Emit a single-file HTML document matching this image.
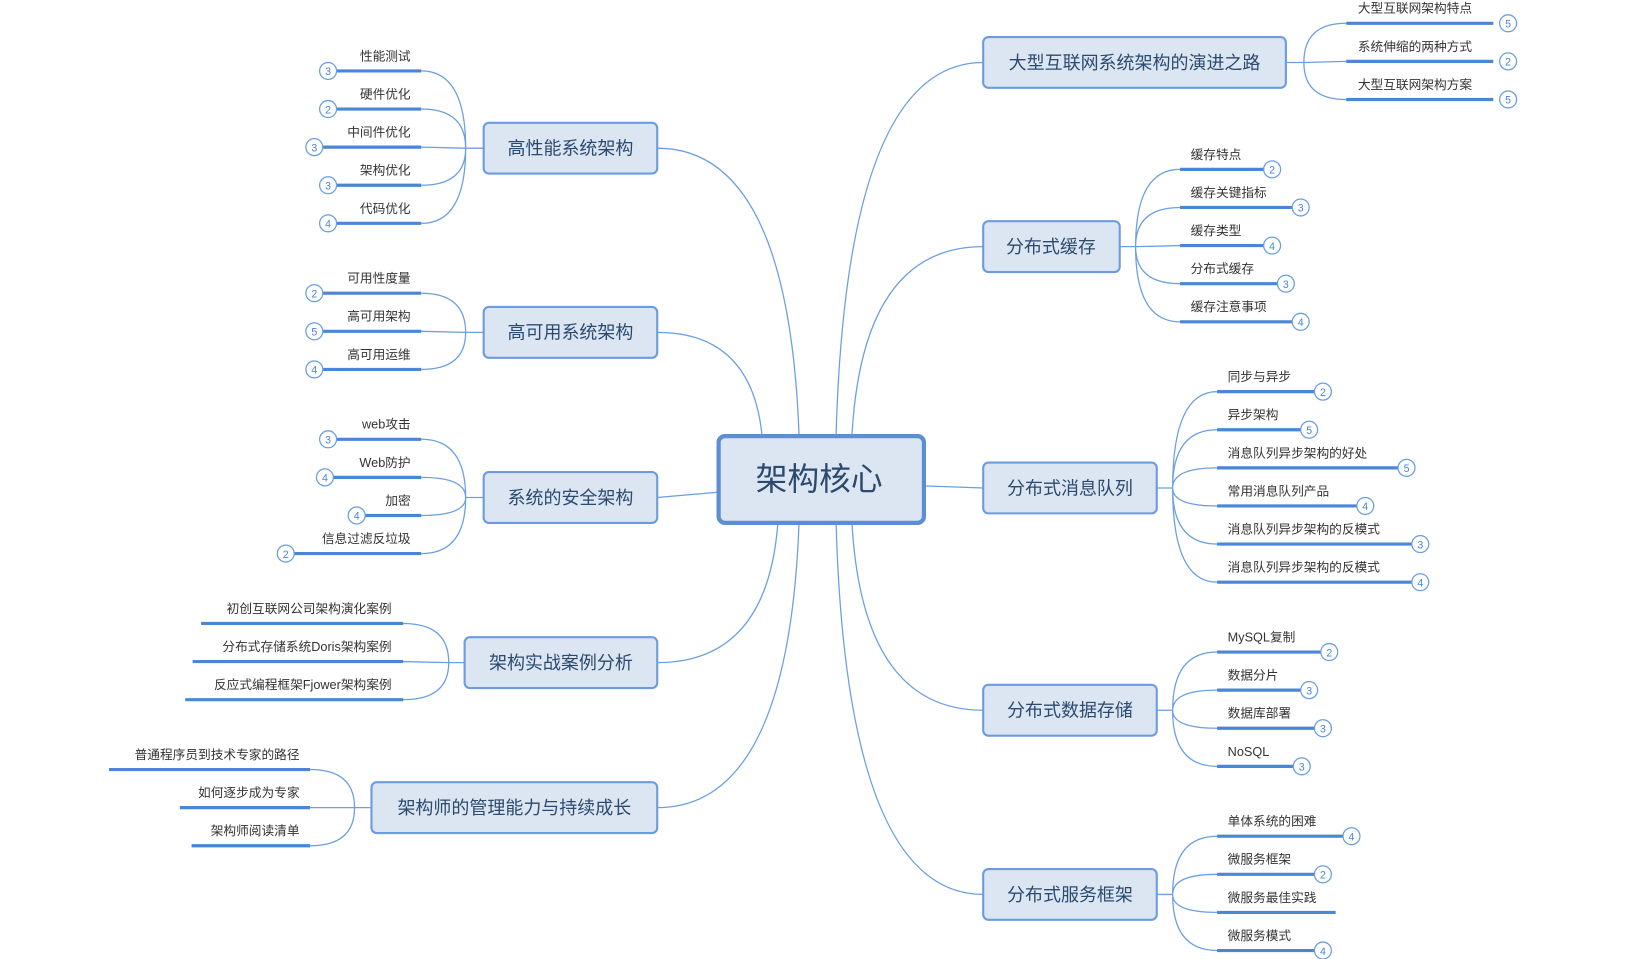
<!DOCTYPE html>
<html><head><meta charset="utf-8"><style>
html,body{margin:0;padding:0;background:#fff;}
svg{display:block;}
text{font-family:"Liberation Sans","Noto Sans CJK SC",sans-serif;}
.l{fill:none;stroke:#6b9fe0;stroke-width:1.2;}
.u{stroke:#4a86d4;stroke-width:3;}
.t{font-size:12px;fill:#333;}
.c{fill:#fff;stroke:#6b9fe0;stroke-width:1.2;}
.n{font-size:10px;fill:#4a86d4;text-anchor:middle;}
.b{fill:#dce6f3;stroke:#6d9be0;stroke-width:2;}
.bt{font-size:17px;fill:#2b4a6e;text-anchor:middle;}
</style></head><body>
<svg width="1651" height="959" viewBox="0 0 1560 906" preserveAspectRatio="none" xmlns="http://www.w3.org/2000/svg">
<!-- main connectors -->
<path class="l" d="M790,411 Q800,59 929,59"/>
<path class="l" d="M805,411 Q815,233 929,233"/>
<path class="l" d="M873,459 L929,461"/>
<path class="l" d="M805,494 Q815,671 929,671"/>
<path class="l" d="M790,494 Q800,845 929,845"/>
<path class="l" d="M755,411 Q745,140 621,140"/>
<path class="l" d="M720,411 Q710,314 621,314"/>
<path class="l" d="M678,465 L621,470"/>
<path class="l" d="M735,494 Q725,626 621,626"/>
<path class="l" d="M755,494 Q745,763 621,763"/>

<!-- center -->
<rect x="679" y="412" width="194" height="82" rx="6" fill="#dce6f3" stroke="#5a8fd6" stroke-width="4"/>
<text x="774" y="463" font-size="30" fill="#2b4a6e" text-anchor="middle">架构核心</text>

<!-- right main nodes -->
<rect class="b" x="929" y="35" width="286" height="48" rx="5"/><text class="bt" x="1072" y="65">大型互联网系统架构的演进之路</text>
<rect class="b" x="929" y="209" width="129" height="48" rx="5"/><text class="bt" x="993" y="239">分布式缓存</text>
<rect class="b" x="929" y="437" width="164" height="48" rx="5"/><text class="bt" x="1011" y="467">分布式消息队列</text>
<rect class="b" x="929" y="647" width="164" height="48" rx="5"/><text class="bt" x="1011" y="677">分布式数据存储</text>
<rect class="b" x="929" y="821" width="164" height="48" rx="5"/><text class="bt" x="1011" y="851">分布式服务框架</text>
<!-- left main nodes -->
<rect class="b" x="457" y="116" width="164" height="48" rx="5"/><text class="bt" x="539" y="146">高性能系统架构</text>
<rect class="b" x="457" y="290" width="164" height="48" rx="5"/><text class="bt" x="539" y="320">高可用系统架构</text>
<rect class="b" x="457" y="446" width="164" height="48" rx="5"/><text class="bt" x="539" y="476">系统的安全架构</text>
<rect class="b" x="439" y="602" width="182" height="48" rx="5"/><text class="bt" x="530" y="632">架构实战案例分析</text>
<rect class="b" x="351" y="739" width="270" height="48" rx="5"/><text class="bt" x="486" y="769">架构师的管理能力与持续成长</text>

<!-- 大型 leaves -->
<path class="l" d="M1215,59 L1232,59 M1232,59 Q1232,22 1272,22 M1232,59 L1272,58 M1232,59 Q1232,94 1272,94"/>
<line class="u" x1="1272" y1="22" x2="1411" y2="22"/><line class="u" x1="1272" y1="58" x2="1411" y2="58"/><line class="u" x1="1272" y1="94" x2="1411" y2="94"/>
<text class="t" x="1283" y="12">大型互联网架构特点</text><text class="t" x="1283" y="48">系统伸缩的两种方式</text><text class="t" x="1283" y="84">大型互联网架构方案</text>
<circle class="c" cx="1425" cy="22" r="8"/><text class="n" x="1425" y="26">5</text>
<circle class="c" cx="1425" cy="58" r="8"/><text class="n" x="1425" y="62">2</text>
<circle class="c" cx="1425" cy="94" r="8"/><text class="n" x="1425" y="98">5</text>

<!-- 缓存 leaves -->
<path class="l" d="M1058,233 L1073,233 M1073,233 Q1073,160 1115,160 M1073,233 Q1073,196 1115,196 M1073,233 L1115,232 M1073,233 Q1073,268 1115,268 M1073,233 Q1073,304 1115,304"/>
<line class="u" x1="1115" y1="160" x2="1194" y2="160"/><line class="u" x1="1115" y1="196" x2="1221" y2="196"/><line class="u" x1="1115" y1="232" x2="1194" y2="232"/><line class="u" x1="1115" y1="268" x2="1207" y2="268"/><line class="u" x1="1115" y1="304" x2="1221" y2="304"/>
<text class="t" x="1125" y="150">缓存特点</text><text class="t" x="1125" y="186">缓存关键指标</text><text class="t" x="1125" y="222">缓存类型</text><text class="t" x="1125" y="258">分布式缓存</text><text class="t" x="1125" y="294">缓存注意事项</text>
<circle class="c" cx="1202" cy="160" r="8"/><text class="n" x="1202" y="164">2</text>
<circle class="c" cx="1229" cy="196" r="8"/><text class="n" x="1229" y="200">3</text>
<circle class="c" cx="1202" cy="232" r="8"/><text class="n" x="1202" y="236">4</text>
<circle class="c" cx="1215" cy="268" r="8"/><text class="n" x="1215" y="272">3</text>
<circle class="c" cx="1229" cy="304" r="8"/><text class="n" x="1229" y="308">4</text>

<!-- 消息队列 leaves -->
<path class="l" d="M1093,461 L1108,461 M1108,461 Q1108,370 1150,370 M1108,461 Q1108,406 1150,406 M1108,461 Q1108,442 1150,442 M1108,461 Q1108,478 1150,478 M1108,461 Q1108,514 1150,514 M1108,461 Q1108,550 1150,550"/>
<line class="u" x1="1150" y1="370" x2="1242" y2="370"/><line class="u" x1="1150" y1="406" x2="1229" y2="406"/><line class="u" x1="1150" y1="442" x2="1321" y2="442"/><line class="u" x1="1150" y1="478" x2="1282" y2="478"/><line class="u" x1="1150" y1="514" x2="1334" y2="514"/><line class="u" x1="1150" y1="550" x2="1334" y2="550"/>
<text class="t" x="1160" y="360">同步与异步</text><text class="t" x="1160" y="396">异步架构</text><text class="t" x="1160" y="432">消息队列异步架构的好处</text><text class="t" x="1160" y="468">常用消息队列产品</text><text class="t" x="1160" y="504">消息队列异步架构的反模式</text><text class="t" x="1160" y="540">消息队列异步架构的反模式</text>
<circle class="c" cx="1250" cy="370" r="8"/><text class="n" x="1250" y="374">2</text>
<circle class="c" cx="1237" cy="406" r="8"/><text class="n" x="1237" y="410">5</text>
<circle class="c" cx="1329" cy="442" r="8"/><text class="n" x="1329" y="446">5</text>
<circle class="c" cx="1290" cy="478" r="8"/><text class="n" x="1290" y="482">4</text>
<circle class="c" cx="1342" cy="514" r="8"/><text class="n" x="1342" y="518">3</text>
<circle class="c" cx="1342" cy="550" r="8"/><text class="n" x="1342" y="554">4</text>

<!-- 数据存储 leaves -->
<path class="l" d="M1093,671 L1108,671 M1108,671 Q1108,616 1150,616 M1108,671 Q1108,652 1150,652 M1108,671 Q1108,688 1150,688 M1108,671 Q1108,724 1150,724"/>
<line class="u" x1="1150" y1="616" x2="1248" y2="616"/><line class="u" x1="1150" y1="652" x2="1229" y2="652"/><line class="u" x1="1150" y1="688" x2="1242" y2="688"/><line class="u" x1="1150" y1="724" x2="1222" y2="724"/>
<text class="t" x="1160" y="606">MySQL复制</text><text class="t" x="1160" y="642">数据分片</text><text class="t" x="1160" y="678">数据库部署</text><text class="t" x="1160" y="714">NoSQL</text>
<circle class="c" cx="1256" cy="616" r="8"/><text class="n" x="1256" y="620">2</text>
<circle class="c" cx="1237" cy="652" r="8"/><text class="n" x="1237" y="656">3</text>
<circle class="c" cx="1250" cy="688" r="8"/><text class="n" x="1250" y="692">3</text>
<circle class="c" cx="1230" cy="724" r="8"/><text class="n" x="1230" y="728">3</text>

<!-- 服务框架 leaves -->
<path class="l" d="M1093,845 L1108,845 M1108,845 Q1108,790 1150,790 M1108,845 Q1108,826 1150,826 M1108,845 Q1108,862 1150,862 M1108,845 Q1108,898 1150,898"/>
<line class="u" x1="1150" y1="790" x2="1269" y2="790"/><line class="u" x1="1150" y1="826" x2="1242" y2="826"/><line class="u" x1="1150" y1="862" x2="1262" y2="862"/><line class="u" x1="1150" y1="898" x2="1242" y2="898"/>
<text class="t" x="1160" y="780">单体系统的困难</text><text class="t" x="1160" y="816">微服务框架</text><text class="t" x="1160" y="852">微服务最佳实践</text><text class="t" x="1160" y="888">微服务模式</text>
<circle class="c" cx="1277" cy="790" r="8"/><text class="n" x="1277" y="794">4</text>
<circle class="c" cx="1250" cy="826" r="8"/><text class="n" x="1250" y="830">2</text>
<circle class="c" cx="1250" cy="898" r="8"/><text class="n" x="1250" y="902">4</text>

<!-- 高性能 leaves -->
<path class="l" d="M457,140 L440,140 M440,140 Q440,67 398,67 M440,140 Q440,103 398,103 M440,140 L398,139 M440,140 Q440,175 398,175 M440,140 Q440,211 398,211"/>
<line class="u" x1="318" y1="67" x2="398" y2="67"/><line class="u" x1="318" y1="103" x2="398" y2="103"/><line class="u" x1="305" y1="139" x2="398" y2="139"/><line class="u" x1="318" y1="175" x2="398" y2="175"/><line class="u" x1="318" y1="211" x2="398" y2="211"/>
<g class="t" text-anchor="end"><text x="388" y="57">性能测试</text><text x="388" y="93">硬件优化</text><text x="388" y="129">中间件优化</text><text x="388" y="165">架构优化</text><text x="388" y="201">代码优化</text></g>
<circle class="c" cx="310" cy="67" r="8"/><text class="n" x="310" y="71">3</text>
<circle class="c" cx="310" cy="103" r="8"/><text class="n" x="310" y="107">2</text>
<circle class="c" cx="297" cy="139" r="8"/><text class="n" x="297" y="143">3</text>
<circle class="c" cx="310" cy="175" r="8"/><text class="n" x="310" y="179">3</text>
<circle class="c" cx="310" cy="211" r="8"/><text class="n" x="310" y="215">4</text>

<!-- 高可用 leaves -->
<path class="l" d="M457,314 L440,314 M440,314 Q440,277 398,277 M440,314 L398,313 M440,314 Q440,349 398,349"/>
<line class="u" x1="305" y1="277" x2="398" y2="277"/><line class="u" x1="305" y1="313" x2="398" y2="313"/><line class="u" x1="305" y1="349" x2="398" y2="349"/>
<g class="t" text-anchor="end"><text x="388" y="267">可用性度量</text><text x="388" y="303">高可用架构</text><text x="388" y="339">高可用运维</text></g>
<circle class="c" cx="297" cy="277" r="8"/><text class="n" x="297" y="281">2</text>
<circle class="c" cx="297" cy="313" r="8"/><text class="n" x="297" y="317">5</text>
<circle class="c" cx="297" cy="349" r="8"/><text class="n" x="297" y="353">4</text>

<!-- 安全 leaves -->
<path class="l" d="M457,470 L440,470 M440,470 Q440,415 398,415 M440,470 Q440,451 398,451 M440,470 Q440,487 398,487 M440,470 Q440,523 398,523"/>
<line class="u" x1="318" y1="415" x2="398" y2="415"/><line class="u" x1="315" y1="451" x2="398" y2="451"/><line class="u" x1="345" y1="487" x2="398" y2="487"/><line class="u" x1="278" y1="523" x2="398" y2="523"/>
<g class="t" text-anchor="end"><text x="388" y="405">web攻击</text><text x="388" y="441">Web防护</text><text x="388" y="477">加密</text><text x="388" y="513">信息过滤反垃圾</text></g>
<circle class="c" cx="310" cy="415" r="8"/><text class="n" x="310" y="419">3</text>
<circle class="c" cx="307" cy="451" r="8"/><text class="n" x="307" y="455">4</text>
<circle class="c" cx="337" cy="487" r="8"/><text class="n" x="337" y="491">4</text>
<circle class="c" cx="270" cy="523" r="8"/><text class="n" x="270" y="527">2</text>

<!-- 实战 leaves -->
<path class="l" d="M439,626 L424,626 M424,626 Q424,589 381,589 M424,626 L381,625 M424,626 Q424,661 381,661"/>
<line class="u" x1="190" y1="589" x2="381" y2="589"/><line class="u" x1="182" y1="625" x2="381" y2="625"/><line class="u" x1="175" y1="661" x2="381" y2="661"/>
<g class="t" text-anchor="end"><text x="370" y="579">初创互联网公司架构演化案例</text><text x="370" y="615">分布式存储系统Doris架构案例</text><text x="370" y="651">反应式编程框架Fjower架构案例</text></g>

<!-- 管理 leaves -->
<path class="l" d="M351,763 L335,763 M335,763 Q335,727 293,727 M335,763 L293,763 M335,763 Q335,799 293,799"/>
<line class="u" x1="103" y1="727" x2="293" y2="727"/><line class="u" x1="170" y1="763" x2="293" y2="763"/><line class="u" x1="181" y1="799" x2="293" y2="799"/>
<g class="t" text-anchor="end"><text x="283" y="717">普通程序员到技术专家的路径</text><text x="283" y="753">如何逐步成为专家</text><text x="283" y="789">架构师阅读清单</text></g>
</svg>
</body></html>
